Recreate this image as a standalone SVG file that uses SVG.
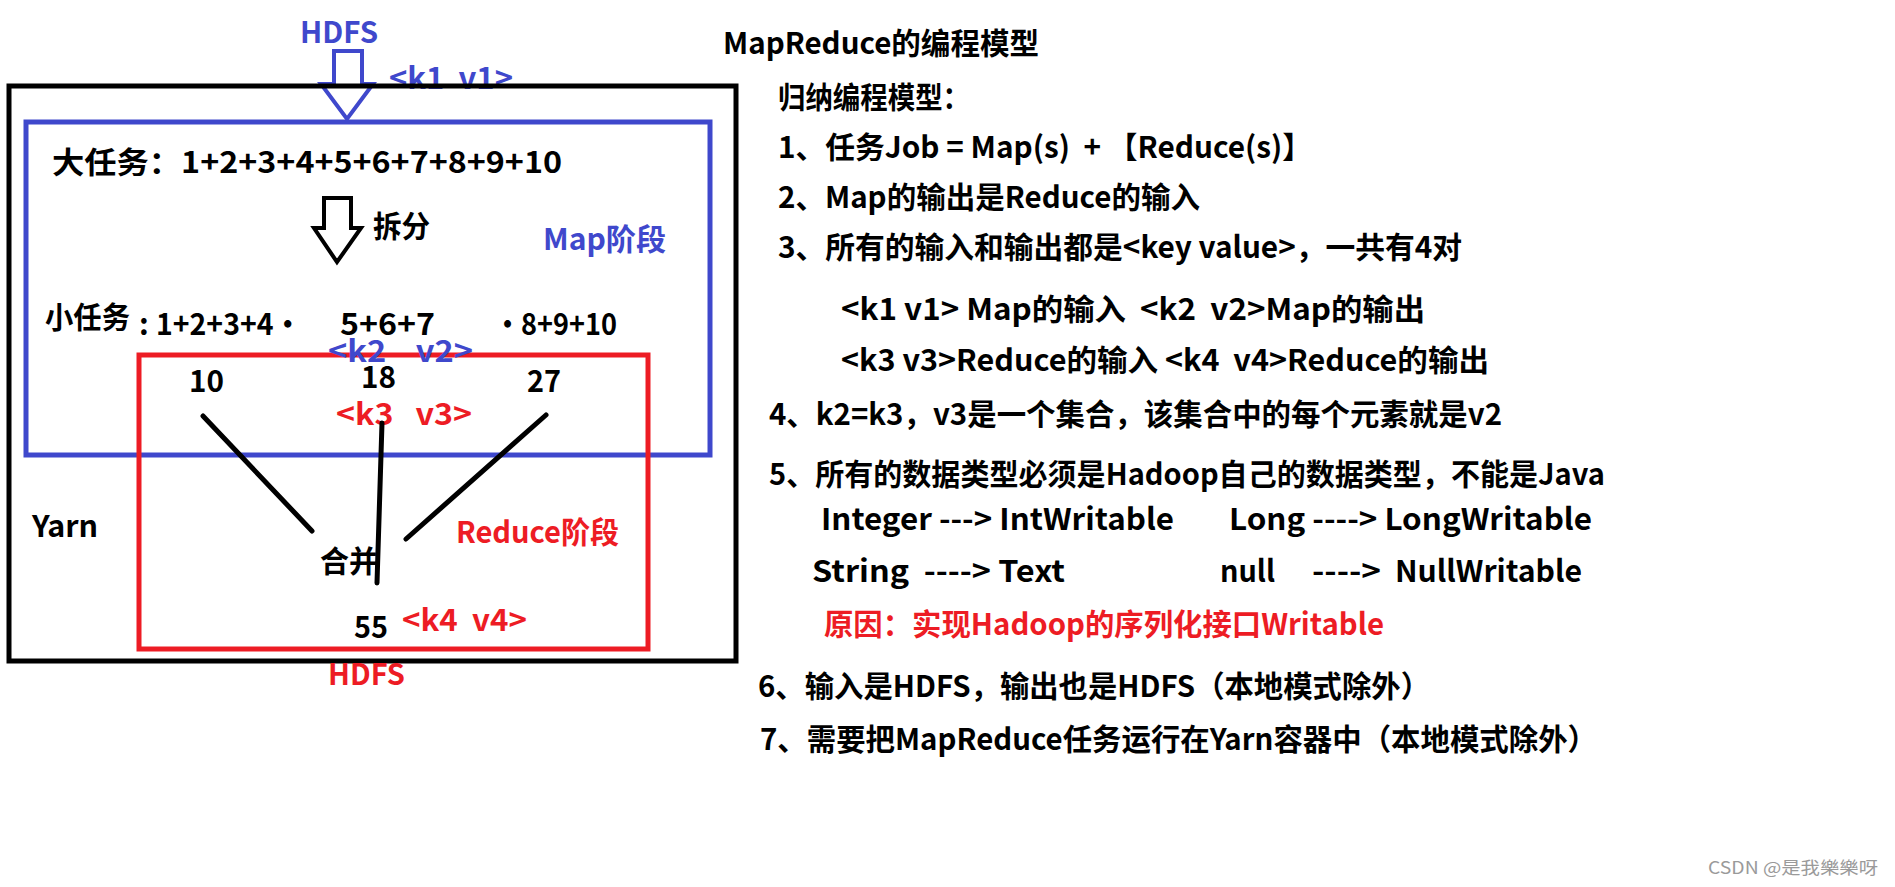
<svg xmlns="http://www.w3.org/2000/svg" width="1895" height="887" viewBox="0 0 1895 887">
<style>
.t{font-family:"Noto Sans CJK SC","Noto Sans",sans-serif;font-weight:bold;font-size:30px;fill:#000;white-space:pre}
.b{fill:#3F48CC}
.r{fill:#ED1C24}
.box{fill:none;stroke-width:5}
.ln{stroke:#000;stroke-width:5;stroke-linecap:round;fill:none}
.wm{font-family:"Noto Sans CJK SC","Liberation Sans",sans-serif;font-size:17px;fill:#9a9a9a}
</style>
<rect width="1895" height="887" fill="#fff"/>
<g id="hdfs-in">
<text class="t b" x="300" y="43" textLength="78" lengthAdjust="spacingAndGlyphs">HDFS</text>
<text class="t b" x="389" y="89" textLength="124" lengthAdjust="spacingAndGlyphs">&lt;k1  v1&gt;</text>
<polygon points="334,51 362,51 362,84 373,84 347,119 321,84 334,84" fill="#fff" stroke="#3F48CC" stroke-width="4"/>
</g>
<g id="map-stage">
<rect class="box" x="26" y="122" width="684" height="333" stroke="#3F48CC"/>
<text class="t" x="52" y="173" textLength="510" lengthAdjust="spacingAndGlyphs">大任务：1+2+3+4+5+6+7+8+9+10</text>
<polygon points="324,198 351,198 351,228 361,228 337,262 314,228 324,228" fill="#fff" stroke="#000" stroke-width="4"/>
<text class="t" x="373" y="237" textLength="57" lengthAdjust="spacingAndGlyphs">拆分</text>
<text class="t b" x="543" y="250" textLength="123" lengthAdjust="spacingAndGlyphs">Map阶段</text>
<text class="t" x="45" y="328" textLength="85" lengthAdjust="spacingAndGlyphs">小任务</text>
<text class="t" x="139" y="335" font-size="20">:</text>
<text class="t" x="156" y="335" textLength="146" lengthAdjust="spacingAndGlyphs">1+2+3+4·</text>
<text class="t" x="340" y="335" textLength="95" lengthAdjust="spacingAndGlyphs">5+6+7</text>
<text class="t" x="494" y="335" textLength="123" lengthAdjust="spacingAndGlyphs">·8+9+10</text>
</g>
<g id="reduce-stage">
<rect class="box" x="139" y="355" width="509" height="294" stroke="#ED1C24"/>
<text class="t b" x="328" y="362" textLength="145" lengthAdjust="spacingAndGlyphs">&lt;k2    v2&gt;</text>
<text class="t" x="189" y="392" font-size="31" textLength="35" lengthAdjust="spacingAndGlyphs">10</text>
<text class="t" x="361" y="388" font-size="31" textLength="35" lengthAdjust="spacingAndGlyphs">18</text>
<text class="t" x="527" y="392" font-size="31" textLength="34" lengthAdjust="spacingAndGlyphs">27</text>
<text class="t r" x="336" y="425" textLength="136" lengthAdjust="spacingAndGlyphs">&lt;k3   v3&gt;</text>
<text class="t r" x="456" y="543" textLength="163" lengthAdjust="spacingAndGlyphs">Reduce阶段</text>
<text class="t" x="320" y="572" textLength="58" lengthAdjust="spacingAndGlyphs">合并</text>
<text class="t" x="354" y="638" font-size="31" textLength="34" lengthAdjust="spacingAndGlyphs">55</text>
<text class="t r" x="402" y="631" textLength="125" lengthAdjust="spacingAndGlyphs">&lt;k4  v4&gt;</text>
</g>
<g id="yarn">
<rect class="box" x="9" y="86" width="727" height="575" stroke="#000"/>
<text class="t" x="32" y="537" textLength="66" lengthAdjust="spacingAndGlyphs">Yarn</text>
</g>
<g id="hdfs-out">
<text class="t r" x="328" y="685" textLength="77" lengthAdjust="spacingAndGlyphs">HDFS</text>
</g>
<g id="connectors">
<line class="ln" x1="203" y1="416" x2="312" y2="531"/>
<line class="ln" x1="382" y1="423" x2="377" y2="583"/>
<line class="ln" x1="546" y1="415" x2="406" y2="539"/>
</g>
<g id="notes">
<text class="t" x="723" y="54" textLength="316" lengthAdjust="spacingAndGlyphs">MapReduce的编程模型</text>
<text class="t" x="778" y="108" textLength="192" lengthAdjust="spacingAndGlyphs">归纳编程模型：</text>
<text class="t" x="778" y="158" textLength="534" lengthAdjust="spacingAndGlyphs">1、任务Job = Map(s)  + 【Reduce(s)】</text>
<text class="t" x="778" y="208" textLength="422" lengthAdjust="spacingAndGlyphs">2、Map的输出是Reduce的输入</text>
<text class="t" x="778" y="258" textLength="684" lengthAdjust="spacingAndGlyphs">3、所有的输入和输出都是&lt;key value&gt;，一共有4对</text>
<text class="t" x="841" y="320" textLength="584" lengthAdjust="spacingAndGlyphs">&lt;k1 v1&gt; Map的输入  &lt;k2  v2&gt;Map的输出</text>
<text class="t" x="841" y="371" textLength="648" lengthAdjust="spacingAndGlyphs">&lt;k3 v3&gt;Reduce的输入 &lt;k4  v4&gt;Reduce的输出</text>
<text class="t" x="769" y="425" textLength="733" lengthAdjust="spacingAndGlyphs">4、k2=k3，v3是一个集合，该集合中的每个元素就是v2</text>
<text class="t" x="769" y="485" textLength="836" lengthAdjust="spacingAndGlyphs">5、所有的数据类型必须是Hadoop自己的数据类型，不能是Java</text>
<text class="t" x="821" y="530" textLength="353" lengthAdjust="spacingAndGlyphs">Integer ---&gt; IntWritable</text>
<text class="t" x="1229" y="530" textLength="363" lengthAdjust="spacingAndGlyphs">Long ----&gt; LongWritable</text>
<text class="t" x="812" y="582" textLength="253" lengthAdjust="spacingAndGlyphs">String  ----&gt; Text</text>
<text class="t" x="1220" y="582" textLength="55" lengthAdjust="spacingAndGlyphs">null</text>
<text class="t" x="1312" y="582" textLength="69" lengthAdjust="spacingAndGlyphs">----&gt;</text>
<text class="t" x="1395" y="582" textLength="187" lengthAdjust="spacingAndGlyphs">NullWritable</text>
<text class="t r" x="824" y="635" textLength="560" lengthAdjust="spacingAndGlyphs">原因：实现Hadoop的序列化接口Writable</text>
<text class="t" x="758" y="697" textLength="672" lengthAdjust="spacingAndGlyphs">6、输入是HDFS，输出也是HDFS（本地模式除外）</text>
<text class="t" x="760" y="750" textLength="837" lengthAdjust="spacingAndGlyphs">7、需要把MapReduce任务运行在Yarn容器中（本地模式除外）</text>
</g>
<g id="watermark">
<text class="wm" x="1708" y="874" textLength="170" lengthAdjust="spacingAndGlyphs">CSDN @是我樂樂呀</text>
</g>
</svg>
